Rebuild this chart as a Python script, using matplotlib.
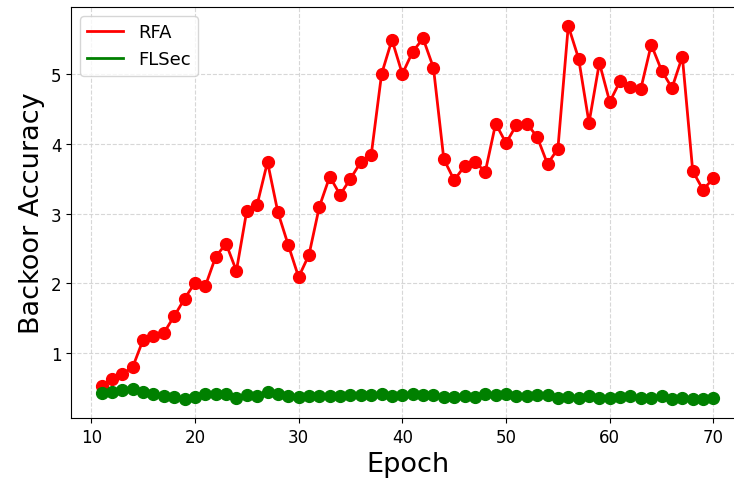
import numpy as np
import matplotlib
matplotlib.use("Agg")
import matplotlib.pyplot as plt

epochs = list(range(11, 71))

rfa = [0.53, 0.63, 0.70, 0.80, 1.19, 1.25, 1.29, 1.53, 1.78, 2.01,
       1.96, 2.38, 2.57, 2.18, 3.04, 3.13, 3.74, 3.02, 2.55, 2.09,
       2.41, 3.10, 3.53, 3.27, 3.50, 3.74, 3.84, 5.00, 5.49, 5.00,
       5.32, 5.51, 5.09, 3.78, 3.48, 3.68, 3.74, 3.60, 4.29, 4.01,
       4.27, 4.29, 4.10, 3.71, 3.93, 5.69, 5.22, 4.30, 5.16, 4.60,
       4.90, 4.82, 4.79, 5.42, 5.05, 4.80, 5.25, 3.61, 3.34, 3.51]

flsec = [0.43, 0.45, 0.47, 0.49, 0.44, 0.41, 0.38, 0.37, 0.34, 0.37,
         0.42, 0.42, 0.41, 0.36, 0.40, 0.39, 0.44, 0.41, 0.39, 0.37,
         0.38, 0.38, 0.39, 0.39, 0.40, 0.40, 0.40, 0.41, 0.39, 0.40,
         0.41, 0.40, 0.40, 0.37, 0.37, 0.38, 0.37, 0.41, 0.40, 0.41,
         0.39, 0.39, 0.40, 0.40, 0.36, 0.37, 0.36, 0.39, 0.36, 0.36,
         0.37, 0.38, 0.36, 0.36, 0.39, 0.35, 0.36, 0.35, 0.35, 0.36]

fig = plt.figure(figsize=(7.34, 4.81), dpi=100)
ax = fig.add_axes([0.0967, 0.129, 0.917, 0.854])

ax.plot(epochs, rfa, color='red', lw=2, label='RFA')
ax.plot(epochs, flsec, color='green', lw=2, label='FLSec')
# markers drawn separately so the legend shows only lines
ax.plot(epochs, rfa, 'o', color='red', ms=8.5)
ax.plot(epochs, flsec, 'o', color='green', ms=8.5)

ax.set_xlabel('Epoch', fontsize=19.5)
ax.set_ylabel('Backoor Accuracy', fontsize=19.5)
ax.set_xticks(np.arange(10, 71, 10))
ax.set_yticks([1, 2, 3, 4, 5])
ax.tick_params(labelsize=12)
ax.grid(True, linestyle='--', color='lightgrey', alpha=0.9)
ax.legend(loc='upper left', fontsize=13)

fig.savefig('out.png', dpi=100)
